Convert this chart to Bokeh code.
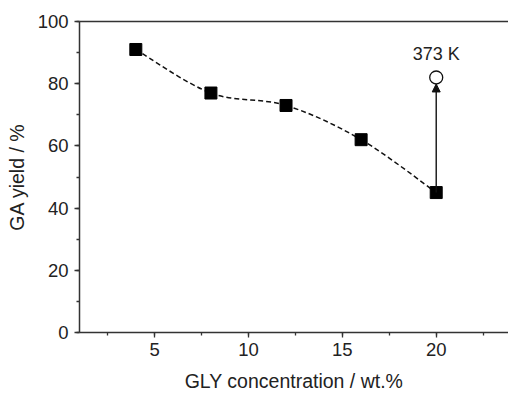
from bokeh.plotting import figure
from bokeh.models import (Range1d, SingleIntervalTicker, FixedTicker, LinearAxis, Arrow, NormalHead,
                          ColumnDataSource, Label)
from bokeh.embed import file_html
from bokeh.resources import INLINE

# Data
gly_conc = [4, 8, 12, 16, 20]
ga_yield = [91, 77, 73, 62, 45]
high_t_conc = [20]
high_t_yield = [82]
high_t_label = "373 K"

FONT = "Liberation Sans"
INK = "#222222"

p = figure(width=508, height=394, output_backend="svg", toolbar_location=None,
           x_range=Range1d(1, 23.85), y_range=Range1d(0, 100),
           min_border_left=79, min_border_right=0, min_border_top=21, min_border_bottom=61,
           x_axis_label="GLY concentration / wt.%", y_axis_label="GA yield / %")
p.outline_line_color = None
p.xgrid.visible = False
p.ygrid.visible = False
p.background_fill_color = "white"
p.border_fill_color = "white"

p.xaxis.ticker = SingleIntervalTicker(interval=5, num_minor_ticks=2)
p.yaxis.ticker = SingleIntervalTicker(interval=20, num_minor_ticks=2)
for ax in (p.xaxis[0], p.yaxis[0]):
    ax.axis_line_color = "#333333"
    ax.axis_line_width = 1.5
    ax.major_tick_line_color = "#333333"
    ax.minor_tick_line_color = "#333333"
    ax.major_tick_line_width = 1.3
    ax.minor_tick_line_width = 1.3
    ax.major_tick_in = 0
    ax.major_tick_out = 5
    ax.minor_tick_in = 0
    ax.minor_tick_out = 3
    ax.major_label_text_font = FONT
    ax.major_label_text_font_size = "18.5px"
    ax.major_label_text_color = INK
    ax.axis_label_text_font = FONT
    ax.axis_label_text_font_size = "19.5px"
    ax.axis_label_text_font_style = "normal"
    ax.axis_label_text_color = INK
p.xaxis.major_label_standoff = 5
p.xaxis.axis_label_standoff = 11
p.yaxis.major_label_standoff = 6
p.yaxis.axis_label_standoff = 7

top = LinearAxis(ticker=FixedTicker(ticks=[]),
                 major_tick_out=0, major_tick_in=0, minor_tick_out=0, minor_tick_in=0,
                 axis_line_color="#333333", axis_line_width=1.5)
p.add_layout(top, "above")

# Smooth dashed curve (Catmull-Rom as cubic Beziers from the data points)
n = len(gly_conc)
x0s, y0s, x1s, y1s, cx0, cy0, cx1, cy1 = [], [], [], [], [], [], [], []
for i in range(n - 1):
    im1 = max(i - 1, 0)
    ip2 = min(i + 2, n - 1)
    x0s.append(gly_conc[i]); y0s.append(ga_yield[i])
    x1s.append(gly_conc[i + 1]); y1s.append(ga_yield[i + 1])
    cx0.append(gly_conc[i] + (gly_conc[i + 1] - gly_conc[im1]) / 6)
    cy0.append(ga_yield[i] + (ga_yield[i + 1] - ga_yield[im1]) / 6)
    cx1.append(gly_conc[i + 1] - (gly_conc[ip2] - gly_conc[i]) / 6)
    cy1.append(ga_yield[i + 1] - (ga_yield[ip2] - ga_yield[i]) / 6)
bsrc = ColumnDataSource(dict(x0=x0s, y0=y0s, x1=x1s, y1=y1s, cx0=cx0, cy0=cy0, cx1=cx1, cy1=cy1))
p.bezier(x0="x0", y0="y0", x1="x1", y1="y1", cx0="cx0", cy0="cy0", cx1="cx1", cy1="cy1",
         source=bsrc, line_color="#111111", line_width=1.5, line_dash="5 3")

# Arrow from the lower-temperature point to the 373 K point
y_px = 312 / 100.0
radius_data = 6.5 / y_px
p.add_layout(Arrow(end=NormalHead(size=8, fill_color="#111111", line_color="#111111"),
                   x_start=gly_conc[-1], y_start=ga_yield[-1],
                   x_end=high_t_conc[0], y_end=high_t_yield[0] - radius_data,
                   line_color="#111111", line_width=1.4))

p.scatter(gly_conc, ga_yield, marker="square", size=12, fill_color="black", line_color="black")
p.scatter(high_t_conc, high_t_yield, marker="circle", size=13, fill_color="white",
          line_color="#111111", line_width=1.3)

p.add_layout(Label(x=high_t_conc[0], y=high_t_yield[0], text=high_t_label, x_offset=0, y_offset=13,
                   text_align="center", text_baseline="bottom", text_font=FONT,
                   text_font_size="18px", text_color=INK))

open("out.html", "w").write(file_html(p, INLINE))
